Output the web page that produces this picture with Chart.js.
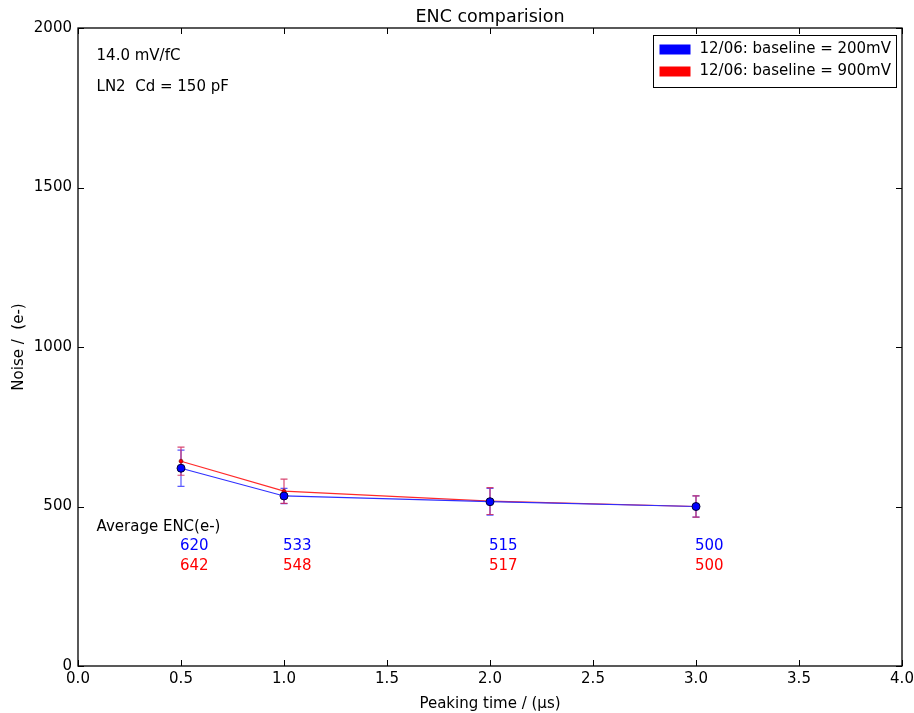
<!DOCTYPE html>
<html>
<head>
<meta charset="utf-8">
<script src="https://cdn.jsdelivr.net/npm/chart.js@4.4.1/dist/chart.umd.min.js"></script>
<style>
  html, body { margin: 0; padding: 0; background: #fff; }
  #wrap { width: 914px; height: 713px; }
</style>
</head>
<body>
<div id="wrap"><canvas id="chart" width="914" height="713"></canvas></div>
<script>
// peaking times (us)
const peakingTimes = [0.5, 1.0, 2.0, 3.0];
// ENC values
const enc200 = [620, 533, 515, 500];
const enc900 = [642, 548, 517, 500];
// error bar half widths
const err200 = [57, 24, 42, 33];
const err900 = [44, 38, 42, 33];

const xTicks = [0, 0.5, 1.0, 1.5, 2.0, 2.5, 3.0, 3.5, 4.0];
const yTicks = [0, 500, 1000, 1500, 2000];

const seriesLabels = ['12/06: baseline = 200mV', '12/06: baseline = 900mV'];
const infoLines = ['14.0 mV/fC', 'LN2  Cd = 150 pF'];

const FONT = '"DejaVu Sans", sans-serif';

const toPts = (xs, ys) => xs.map((x, i) => ({ x: x, y: ys[i] }));

// error bars, box, inward ticks, texts, legend
const decorPlugin = {
  id: 'decor',
  beforeDatasetsDraw(chart) {
    const ctx = chart.ctx;
    const xs = chart.scales.x, ys = chart.scales.y;
    const bars = [
      { err: err200, vals: enc200, color: 'rgba(60,60,255,0.85)' },
      { err: err900, vals: enc900, color: 'rgba(210,40,90,0.85)' }
    ];
    ctx.save();
    ctx.lineWidth = 1.2;
    bars.forEach(b => {
      ctx.strokeStyle = b.color;
      peakingTimes.forEach((t, i) => {
        const px = xs.getPixelForValue(t);
        const top = ys.getPixelForValue(b.vals[i] + b.err[i]);
        const bot = ys.getPixelForValue(b.vals[i] - b.err[i]);
        ctx.beginPath();
        ctx.moveTo(px, top); ctx.lineTo(px, bot);
        ctx.moveTo(px - 3.5, top); ctx.lineTo(px + 3.5, top);
        ctx.moveTo(px - 3.5, bot); ctx.lineTo(px + 3.5, bot);
        ctx.stroke();
      });
    });
    ctx.restore();
  },
  afterDraw(chart) {
    const ctx = chart.ctx;
    const a = chart.chartArea;
    const xs = chart.scales.x, ys = chart.scales.y;
    ctx.save();
    // box
    ctx.strokeStyle = '#000';
    ctx.lineWidth = 1.3;
    ctx.strokeRect(a.left, a.top, a.right - a.left, a.bottom - a.top);
    // inward ticks on all four sides
    ctx.lineWidth = 1;
    ctx.beginPath();
    xTicks.forEach(t => {
      const px = Math.round(xs.getPixelForValue(t)) + 0.5;
      ctx.moveTo(px, a.bottom); ctx.lineTo(px, a.bottom - 6);
      ctx.moveTo(px, a.top); ctx.lineTo(px, a.top + 6);
    });
    yTicks.forEach(t => {
      const py = Math.round(ys.getPixelForValue(t)) + 0.5;
      ctx.moveTo(a.left, py); ctx.lineTo(a.left + 6, py);
      ctx.moveTo(a.right, py); ctx.lineTo(a.right - 6, py);
    });
    ctx.stroke();

    // title
    ctx.fillStyle = '#000';
    ctx.font = '17.5px ' + FONT;
    ctx.textAlign = 'center';
    ctx.textBaseline = 'middle';
    ctx.fillText('ENC comparision', (a.left + a.right) / 2, 17);

    // info text
    ctx.font = '15px ' + FONT;
    ctx.textAlign = 'left';
    ctx.fillText(infoLines[0], xs.getPixelForValue(0.09), ys.getPixelForValue(1912));
    ctx.fillText(infoLines[1], xs.getPixelForValue(0.09), ys.getPixelForValue(1815));

    // average ENC annotations
    ctx.fillText('Average ENC(e-)', xs.getPixelForValue(0.09), ys.getPixelForValue(435));
    peakingTimes.forEach((t, i) => {
      ctx.fillStyle = '#0000ff';
      ctx.fillText(String(enc200[i]), xs.getPixelForValue(t) - 1, ys.getPixelForValue(375));
      ctx.fillStyle = '#ff0000';
      ctx.fillText(String(enc900[i]), xs.getPixelForValue(t) - 1, ys.getPixelForValue(312));
    });

    // legend
    const lx = 653.5, ly = 35.5, lw = 243, lh = 52;
    ctx.fillStyle = '#fff';
    ctx.fillRect(lx, ly, lw, lh);
    ctx.strokeStyle = '#000';
    ctx.lineWidth = 1;
    ctx.strokeRect(lx, ly, lw, lh);
    const cols = ['#0000ff', '#ff0000'];
    seriesLabels.forEach((lab, i) => {
      const cy = ly + 14 + i * 22;
      ctx.fillStyle = cols[i];
      ctx.fillRect(lx + 6, cy - 5, 31, 10);
      ctx.fillStyle = '#000';
      ctx.font = '15px ' + FONT;
      ctx.textAlign = 'left';
      ctx.fillText(lab, lx + 46, cy);
    });
    ctx.restore();
  }
};

new Chart(document.getElementById('chart'), {
  type: 'scatter',
  data: {
    datasets: [
      {
        label: seriesLabels[0],
        data: toPts(peakingTimes, enc200),
        showLine: true,
        borderColor: '#2f2fff',
        borderWidth: 1.2,
        pointRadius: 4,
        pointBackgroundColor: '#0000ff',
        pointBorderColor: '#000033',
        pointBorderWidth: 1
      },
      {
        label: seriesLabels[1],
        data: toPts(peakingTimes, enc900),
        showLine: true,
        borderColor: '#ff2a2a',
        borderWidth: 1.2,
        pointRadius: 2,
        pointBackgroundColor: '#ff0000',
        pointBorderColor: '#550000',
        pointBorderWidth: 0.5
      }
    ]
  },
  options: {
    responsive: false,
    animation: false,
    layout: { padding: { top: 28, right: 12, left: 0, bottom: 0 } },
    plugins: {
      legend: { display: false },
      title: { display: false },
      tooltip: { enabled: false }
    },
    scales: {
      x: {
        type: 'linear',
        min: 0, max: 4,
        afterBuildTicks(s) { s.ticks = xTicks.map(v => ({ value: v })); },
        afterFit(s) { s.height = 47; s.paddingLeft = 0; s.paddingRight = 0; },
        grid: { display: false, drawTicks: false },
        border: { display: false },
        ticks: {
          color: '#000',
          font: { family: FONT, size: 15 },
          padding: 4,
          maxRotation: 0,
          callback: v => Number(v).toFixed(1)
        },
        title: {
          display: true,
          text: 'Peaking time / (\u03bcs)',
          color: '#000',
          font: { family: FONT, size: 15 },
          padding: { top: 2, bottom: 0 }
        }
      },
      y: {
        type: 'linear',
        min: 0, max: 2000,
        afterBuildTicks(s) { s.ticks = yTicks.map(v => ({ value: v })); },
        afterFit(s) { s.width = 78; s.paddingTop = 0; s.paddingBottom = 0; },
        grid: { display: false, drawTicks: false },
        border: { display: false },
        ticks: {
          color: '#000',
          font: { family: FONT, size: 15 },
          padding: 6,
          callback: v => String(v)
        },
        title: {
          display: true,
          text: 'Noise /  (e-)',
          color: '#000',
          font: { family: FONT, size: 15 },
          padding: { top: 10, bottom: 4 }
        }
      }
    }
  },
  plugins: [decorPlugin]
});
</script>
</body>
</html>
